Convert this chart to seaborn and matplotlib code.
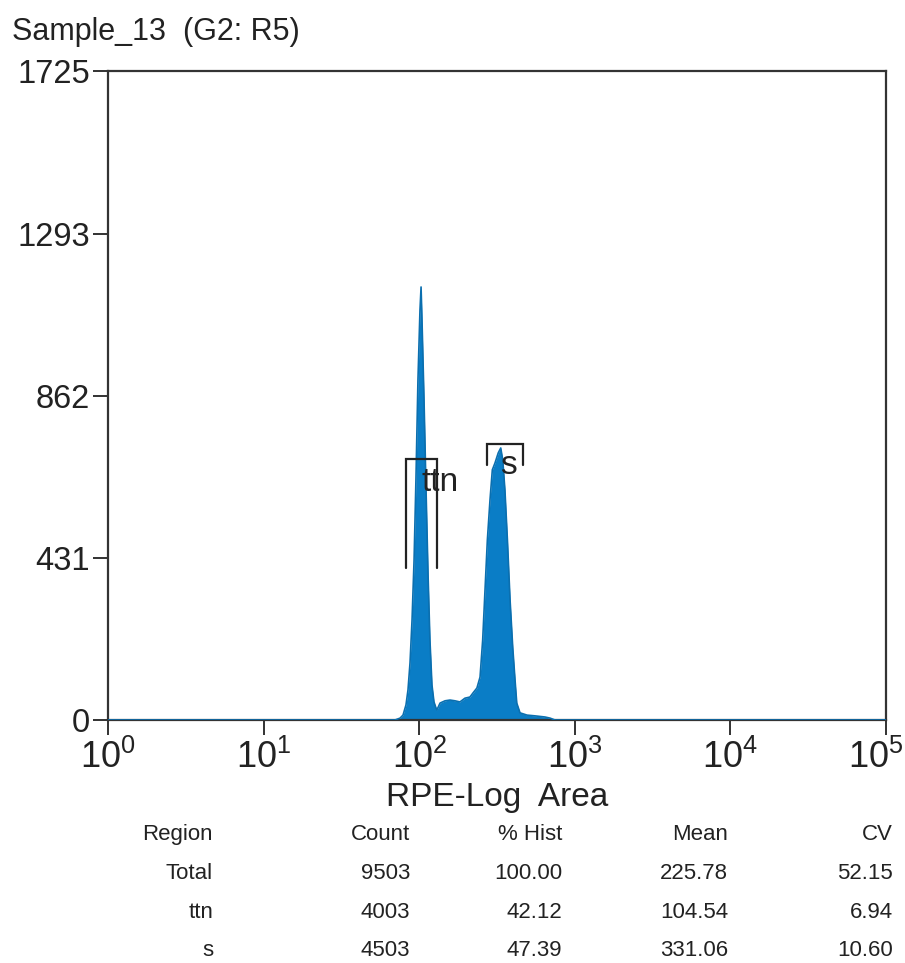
import numpy as np
import pandas as pd
import matplotlib
matplotlib.use("Agg")
import matplotlib.pyplot as plt
import matplotlib.transforms as mtransforms
import seaborn as sns

# ---------------- data ----------------
title = "Sample_13  (G2: R5)"
x_label = "RPE-Log  Area"
y_ticks = [0, 431, 862, 1293, 1725]
x_decades = [0, 1, 2, 3, 4, 5]

# histogram outline: log10(RPE area) and events per channel
rpe_log10 = [0.000, 1.844, 1.877, 1.896, 1.915, 1.928, 1.941, 1.954, 1.967, 1.979,
             1.992, 2.005, 2.012, 2.018, 2.031, 2.044, 2.057, 2.069, 2.082, 2.095,
             2.108, 2.114, 2.134, 2.166, 2.198, 2.230, 2.262, 2.294, 2.326, 2.346,
             2.371, 2.391, 2.408, 2.423, 2.438, 2.455, 2.470, 2.487, 2.508, 2.524,
             2.537, 2.551, 2.567, 2.584, 2.601, 2.616, 2.627, 2.648, 2.693, 2.744,
             2.808, 2.841, 2.873, 5.000]
event_counts = [0, 0, 5, 13, 40, 80, 152, 266, 425, 638,
                904, 1090, 1151, 1063, 851, 611, 385, 213, 93, 48,
                32, 27, 45, 51, 53, 51, 48, 58, 61, 72,
                85, 114, 213, 346, 478, 585, 665, 683, 710, 723,
                691, 611, 478, 319, 194, 106, 45, 19, 13, 11,
                8, 5, 0, 0]

# region markers: name, left, right, top, bottom (RPE area / counts)
region_names = ["ttn", "s"]
region_left = [82.3, 273.0]
region_right = [130.1, 465.0]
region_top = [694, 734]
region_bottom = [404, 678]

# statistics table
table_header = ["Region", "Count", "% Hist", "Mean", "CV"]
stat_region = ["Total", "ttn", "s"]
stat_count = ["9503", "4003", "4503"]
stat_pct = ["100.00", "42.12", "47.39"]
stat_mean = ["225.78", "104.54", "331.06"]
stat_cv = ["52.15", "6.94", "10.60"]

# ---------------- styling ----------------
sns.set_style("ticks")
plt.rcParams["font.family"] = ["Liberation Sans", "DejaVu Sans"]
plt.rcParams["mathtext.fontset"] = "custom"
plt.rcParams["mathtext.rm"] = "Liberation Sans"
plt.rcParams["mathtext.it"] = "Liberation Sans"

W, H = 905, 963
fig = plt.figure(figsize=(W / 100, H / 100), dpi=100)
L, R, T, B = 108, 886, 71, 720
ax = fig.add_axes([L / W, 1 - B / H, (R - L) / W, (B - T) / H])

def fp(x, y):
    return x / W, 1 - y / H

fill_col = "#0A7DC6"
line_col = "#0B6FAF"
ink = "#222222"

df = pd.DataFrame({"rpe": [10 ** v for v in rpe_log10], "count": event_counts})
ax.fill_between(df["rpe"], 0, df["count"], color=fill_col, lw=0, zorder=2)
sns.lineplot(data=df, x="rpe", y="count", ax=ax, color=line_col, lw=1.2,
             sort=False, estimator=None, zorder=3)

ax.set_xscale("log")
ax.set_xlim(1, 1e5)
ax.set_ylim(0, 1725)
ax.set_xticks([10 ** d for d in x_decades])
ax.set_xticklabels([r"$\mathregular{10^{%d}}$" % d for d in x_decades])
ax.xaxis.set_minor_locator(matplotlib.ticker.NullLocator())
ax.set_yticks(y_ticks)
ax.set_yticklabels([str(v) for v in y_ticks])
ax.tick_params(axis="both", direction="out", width=1.3, color=ink,
               labelcolor=ink)
ax.tick_params(axis="x", length=11, pad=3, labelsize=26)
ax.tick_params(axis="y", length=11, pad=2, labelsize=23.5)
ax.set_xlabel("")
ax.set_ylabel("")
for s in ax.spines.values():
    s.set_visible(True)
    s.set_linewidth(1.6)
    s.set_color("#333333")

# keep the last decade label inside the figure (as in the reference)
last = ax.get_xticklabels()[-1]
last.set_transform(last.get_transform() +
                   mtransforms.ScaledTranslation(-10 / 100, 0, fig.dpi_scale_trans))

# region markers
for name, xl, xr, yt, yb in zip(region_names, region_left, region_right,
                                 region_top, region_bottom):
    ax.plot([xl, xl, xr, xr], [yb, yt, yt, yb], color=ink, lw=1.6,
            zorder=4, solid_joinstyle="miter")

ax.text(102.7, 632, "ttn", fontsize=24, color=ink, va="center", ha="left",
        zorder=5)
ax.text(372, 676, "s", fontsize=24, color=ink, va="center", ha="center",
        zorder=5)

# title and x label
fig.text(*fp(12, 32), title, fontsize=22, color=ink, va="center", ha="left")
fig.text(*fp(497, 797), x_label, fontsize=24, color=ink, va="center",
         ha="center")

# statistics table
col_right = [213, 410, 562, 728, 893]
row_y = [834, 873, 912, 950]
rows = [table_header] + [list(r) for r in zip(stat_region, stat_count, stat_pct,
                                                 stat_mean, stat_cv)]
for yy, row in zip(row_y, rows):
    for xx, txt in zip(col_right, row):
        fig.text(*fp(xx, yy), txt, fontsize=16, color=ink, va="center",
                 ha="right")

fig.savefig("out.png", dpi=100)
